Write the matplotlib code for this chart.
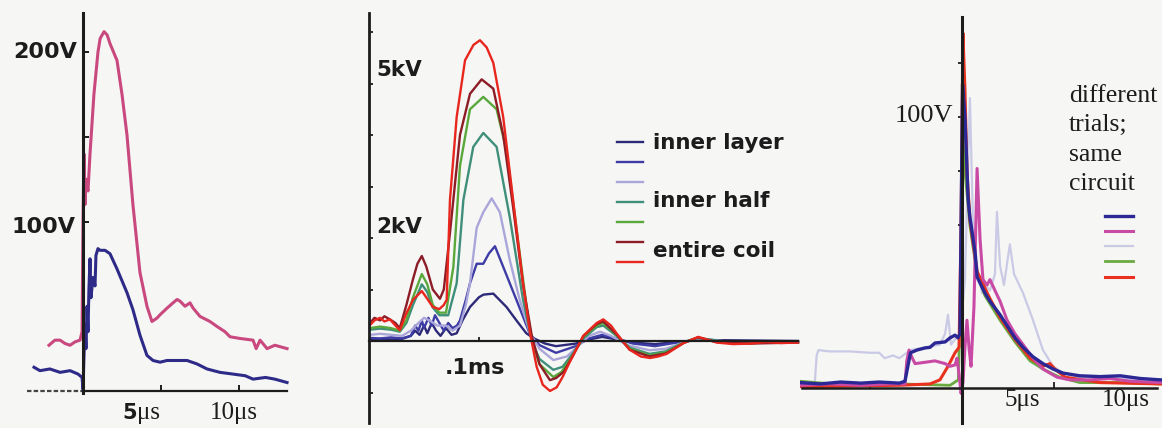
import matplotlib
matplotlib.use("Agg")
import matplotlib.pyplot as plt

W, H = 1162, 428
BG = "#f6f6f4"
INK = "#1c1c1c"

# ---------------- Panel 1 (time in us, volts) ----------------
p1_pink_t = [-2.18, -1.8, -1.47, -1.15, -0.83, -0.51, -0.19, -0.06, 0.0, 0.06, 0.13, 0.19, 0.32, 0.45, 0.7,
             0.96, 1.1, 1.35, 1.55, 1.73, 2.18, 2.5, 2.82, 3.2, 3.65, 4.1, 4.42, 4.74, 4.94, 5.4, 5.77, 6.03,
             6.22, 6.54, 6.86, 7.05, 7.5, 8.14, 8.6, 9.1, 9.42, 10.06, 10.9, 11.1, 11.35, 11.8, 12.3, 13.08]
p1_pink_v = [27, 30, 30, 28, 27, 29, 30, 35, 100, 140, 110, 125, 118, 140, 175,
             200, 208, 212, 210, 205, 195, 175, 151, 110, 70, 50, 41, 43, 45, 49, 52, 54,
             53, 50, 52, 49, 44, 41, 38, 35, 32, 31, 30, 25, 30, 25, 27, 25]
p1_navy_t = [-3.14, -2.76, -2.12, -1.47, -0.83, -0.32, -0.06, 0.0, 0.06, 0.13, 0.19, 0.26, 0.32, 0.38, 0.45,
             0.51, 0.64, 0.77, 0.83, 0.96, 1.09, 1.41, 1.73, 2.18, 2.82, 3.2, 3.65, 4.1, 4.49, 4.94, 5.38,
             6.03, 6.67, 7.3, 7.95, 8.78, 9.6, 10.4, 10.9, 11.7, 12.3, 13.08]
p1_navy_v = [14, 12, 13, 11, 12, 10, 8, 1, 20, 39, 25, 50, 35, 60, 78,
             55, 67, 62, 80, 84, 83, 83, 81, 72, 58, 48, 33, 21, 18, 17, 18,
             18, 18, 16, 13, 11, 10, 9, 7, 8, 7, 5]
p1_yticks = [100, 150, 200]
p1_xticks = [5, 10]

# ---------------- Panel 2 (time in us, kV) ----------------
p2_red_t = [0.9, 5, 10, 14, 19, 24, 28, 34, 40, 48, 52, 58, 64, 68, 70.6, 73.6, 79.7, 87.3, 95, 100.9, 107,
            113, 122, 131, 140, 146.4, 152.4, 158, 164.5, 170.6, 176, 182.7, 194.8, 207, 213, 220, 225, 237,
            247, 255.5, 263, 270.6, 285.8, 299.4, 316, 331, 346, 361, 375, 390]
p2_red_v = [0.31, 0.4, 0.45, 0.38, 0.42, 0.3, 0.21, 0.54, 0.8, 0.97, 0.85, 0.66, 0.62, 0.7, 0.8, 2.74, 4.35,
            5.45, 5.75, 5.84, 5.7, 5.4, 4.35, 2.74, 1.12, 0.15, -0.5, -0.85, -0.97, -0.9, -0.7, -0.4, 0.1,
            0.35, 0.42, 0.3, 0.15, -0.17, -0.3, -0.33, -0.3, -0.25, -0.04, 0.08, -0.03, -0.06, -0.05, -0.02,
            -0.04, -0.03]
p2_darkred_t = [0.9, 5, 10, 14, 19, 24, 28, 34, 40, 44, 48, 52, 58, 64.5, 68, 73.6, 82.7, 91.8, 102.4, 113,
                122, 131, 140, 148, 155, 164.5, 170, 177, 185, 195, 207, 213, 225, 237, 255, 270, 286, 299,
                316, 346, 390]
p2_darkred_v = [0.35, 0.45, 0.4, 0.48, 0.42, 0.35, 0.25, 0.7, 1.2, 1.5, 1.65, 1.45, 1.0, 0.82, 1.0, 2.1, 4.0,
                4.8, 5.08, 4.9, 4.0, 2.6, 1.1, 0.1, -0.45, -0.76, -0.72, -0.6, -0.3, 0.1, 0.33, 0.38, 0.13,
                -0.17, -0.3, -0.24, -0.04, 0.07, -0.02, -0.05, -0.03]
p2_green_t = [0.9, 10, 20, 28, 34, 40, 48, 53, 58, 64, 70, 76.7, 82.7, 91.8, 103.9, 116, 125, 134, 143.3, 148,
              155, 167.6, 175, 183, 195, 207, 213, 225, 237, 255, 270, 286, 299, 316, 346, 390]
p2_green_v = [0.25, 0.28, 0.25, 0.2, 0.4, 0.85, 1.3, 1.1, 0.7, 0.55, 0.55, 1.44, 3.4, 4.5, 4.74, 4.5, 3.7,
              2.2, 0.66, 0.0, -0.45, -0.7, -0.6, -0.35, 0.08, 0.3, 0.35, 0.12, -0.15, -0.28, -0.22, -0.03,
              0.07, -0.02, -0.04, -0.02]
p2_teal_t = [0.9, 10, 20, 28, 34, 40, 48, 53, 58, 64, 72, 79.7, 85.8, 94.8, 103.9, 116, 128, 140, 148, 155,
             167.6, 176, 185, 195, 207, 213, 225, 237, 255, 270, 286, 299, 330, 390]
p2_teal_v = [0.22, 0.24, 0.22, 0.18, 0.35, 0.7, 1.1, 0.95, 0.65, 0.5, 0.5, 1.12, 2.74, 3.77, 4.04, 3.77, 2.4,
             0.8, 0.0, -0.35, -0.56, -0.5, -0.25, 0.05, 0.27, 0.3, 0.1, -0.13, -0.25, -0.2, -0.03, 0.06,
             -0.03, -0.02]
p2_lav_t = [0.9, 10, 20, 30, 38, 45, 50, 55, 62, 70, 76, 82.7, 88, 91.8, 97.9, 103.9, 111.5, 119, 128, 137,
            146.4, 155, 167.6, 180, 190, 200, 210, 220, 235, 255, 270, 286, 299, 330, 390]
p2_lav_v = [0.12, 0.14, 0.12, 0.1, 0.2, 0.35, 0.45, 0.4, 0.3, 0.3, 0.2, 0.3, 0.7, 1.12, 2.2, 2.5, 2.77, 2.5,
            1.57, 0.8, 0.15, -0.15, -0.37, -0.3, -0.1, 0.1, 0.18, 0.1, -0.08, -0.18, -0.15, -0.03, 0.05,
            -0.02, -0.02]
p2_blue_t = [0.9, 10, 20, 30, 38, 42, 45, 48, 50, 54, 57, 60, 64, 68, 72, 76, 80, 82.7, 88, 91.8, 97.9,
             103.9, 109, 114.5, 122, 134, 146, 155, 170, 188, 200, 212, 225, 240, 260, 280, 300, 330, 390]
p2_blue_v = [0.06, 0.05, 0.07, 0.05, 0.1, 0.3, 0.2, 0.4, 0.25, 0.45, 0.3, 0.5, 0.35, 0.2, 0.35, 0.25, 0.3,
             0.4, 0.8, 1.12, 1.5, 1.5, 1.7, 1.84, 1.44, 0.8, 0.15, -0.08, -0.23, -0.1, 0.05, 0.12, 0.05,
             -0.05, -0.1, -0.03, 0.03, -0.02, -0.01]
p2_navy_t = [0.9, 10, 20, 30, 38, 42, 46, 50, 53, 57, 61, 65, 70, 75, 79.7, 85, 91.8, 100, 104, 113, 125,
             134, 143, 150, 160, 170, 188, 200, 212, 225, 240, 260, 280, 300, 390]
p2_navy_v = [0.03, 0.04, 0.03, 0.04, 0.1, 0.2, 0.12, 0.3, 0.15, 0.35, 0.2, 0.1, 0.25, 0.12, 0.15, 0.4, 0.66,
             0.85, 0.9, 0.92, 0.66, 0.4, 0.15, 0.05, -0.05, -0.1, -0.05, 0.03, 0.08, 0.03, -0.03, -0.06,
             -0.02, 0.02, 0.0]
p2_yticks = [-1, 0, 1, 2, 3, 4, 5, 6]
p2_xticks = [100, 200]
p2_groups = ["inner layer", "inner half", "entire coil"]

# ---------------- Panel 3 (time in us, volts) ----------------
p3_navy_t = [-8.8, -7.7, -6.6, -5.5, -4.5, -3.4, -3.1, -2.8, -2.45, -2.0, -1.74, -1.47, -0.92, -0.65, -0.38,
             -0.22, -0.11, -0.05, 0.03, 0.16, 0.33, 0.43, 0.54, 0.71, 0.82, 1.25, 1.52, 2.07, 2.45, 2.88,
             3.32, 3.86, 4.4, 4.95, 5.49, 6.4, 7.5, 8.6, 9.7, 10.8]
p3_navy_v = [2, 1.5, 2.2, 1.8, 2.2, 1.8, 2.5, 13, 14, 14.8, 15, 16.6, 17, 18.5, 19.5, 18.5, 20, 60, 112,
             100, 70, 63, 58, 50, 41, 35, 32, 27, 23, 18.5, 15, 11.5, 9, 7, 5.5, 4.5, 4.2, 4.5, 3.5, 3]
p3_mag_t = [-8.8, -7.2, -5.5, -3.9, -3.1, -3.0, -2.88, -2.7, -2.55, -2.0, -1.47, -0.92, -0.65, -0.38, -0.27,
            -0.16, -0.05, 0.05, 0.16, 0.27, 0.38, 0.49, 0.65, 0.82, 0.98, 1.14, 1.36, 1.52, 1.79, 2.07, 2.45,
            2.88, 3.32, 3.86, 4.4, 5.16, 5.87, 6.96, 8.04, 9.13, 10.8]
p3_mag_v = [1, 1.5, 1, 1.5, 1.5, 10, 14, 11, 9, 9.5, 10, 9, 8, 8.5, 11, 5, -2, 2, 15, 25, 15, 8, 30, 81, 55,
            40, 38, 40, 36, 32, 25, 20, 16, 11, 7, 4, 3, 3, 3.5, 2.5, 2]
p3_lav_t = [-8.8, -8.0, -7.9, -7.8, -7.2, -6.1, -5.0, -4.5, -4.2, -3.75, -3.4, -2.8, -2.0, -1.2, -0.92, -0.76,
            -0.6, -0.38, -0.11, 0.16, 0.43, 0.6, 0.82, 1.09, 1.25, 1.52, 1.79, 1.9, 2.07, 2.28, 2.6, 2.83,
            3.32, 3.86, 4.4, 4.95, 5.49, 6.4, 10.8]
p3_lav_v = [2, 2, 12, 14, 13.5, 13.5, 13, 13, 11, 12, 11, 14, 15, 16, 20, 27, 16, 18, 20, 40, 107, 60, 45,
            35, 38, 36, 42, 65, 45, 38, 53, 42, 35, 25, 14, 8, 5.5, 4, 3]
p3_green_t = [-8.8, -6.1, -3.4, -0.65, -0.2, -0.05, 0.03, 0.16, 0.43, 0.82, 1.25, 2.07, 2.88, 3.7, 4.4, 5.3,
              6.4, 8.6, 10.8]
p3_green_v = [2.5, 1, 1.5, 1, 3, 40, 94, 80, 60, 42, 34, 25, 17, 10, 7, 4, 2, 2, 1.5]
p3_red_t = [-8.8, -3.4, -1.74, -1.2, -0.76, -0.38, -0.16, -0.05, 0.05, 0.16, 0.27, 0.43, 0.82, 1.52, 2.07,
            2.88, 3.7, 4.4, 4.78, 5.05, 5.6, 7.5, 10.8]
p3_red_v = [0.5, 1, 1.5, 3, 8, 13, 15, 60, 131, 110, 80, 62, 43, 33, 26, 18, 11, 8, 9, 7, 4, 2, 1.5]
p3_yticks = [60, 80, 100, 120]
p3_xticks = [-5, 5]
p3_note = ["different", "trials;", "same", "circuit"]

fig = plt.figure(figsize=(W / 100, H / 100), dpi=100, facecolor=BG)


def panel(x0, x1, t0px, pxu, y0px, pyu):
    ax = fig.add_axes([x0 / W, 0, (x1 - x0) / W, 1])
    ax.set_xlim((x0 - t0px) / pxu, (x1 - t0px) / pxu)
    ax.set_ylim((y0px - H) / pyu, y0px / pyu)
    ax.patch.set_alpha(0)
    ax.spines["top"].set_visible(False)
    ax.spines["right"].set_visible(False)
    ax.spines["left"].set_position(("data", 0))
    ax.spines["bottom"].set_position(("data", 0))
    for s in ("left", "bottom"):
        ax.spines[s].set_color(INK)
    ax.set_xticklabels([])
    ax.set_yticklabels([])
    return ax


def ftext(x, y, s, **kw):
    fig.text(x / W, 1 - y / H, s, color=INK, **kw)


SANS = dict(family="DejaVu Sans", weight="bold")
SERIF = dict(family="Liberation Serif")

# ---- Panel 1
ax1 = panel(20, 300, 83, 15.6, 391, 1.695)
ax1.spines["left"].set_bounds(-1, 223)
ax1.spines["left"].set_linewidth(2.2)
ax1.spines["bottom"].set_bounds(0, 13.1)
ax1.spines["bottom"].set_linewidth(1.6)
ax1.hlines(0, -3.6, 0, colors="#444444", linestyles=(0, (2, 1)), linewidth=1.6)
ax1.set_xticks(p1_xticks)
ax1.set_yticks(p1_yticks)
ax1.set_xticklabels([])
ax1.set_yticklabels([])
ax1.tick_params(axis="both", direction="in", length=4, width=1.4, color=INK)
ax1.plot(p1_pink_t, p1_pink_v, color="#c9487e", lw=2.2, solid_joinstyle="round")
ax1.plot(p1_navy_t, p1_navy_v, color="#2e2a88", lw=2.2, solid_joinstyle="round")
ftext(77, 52, "200V", ha="right", va="center", fontsize=16, **SANS)
ftext(75, 227, "100V", ha="right", va="center", fontsize=16, **SANS)
ftext(137, 419, "5", ha="right", va="baseline", fontsize=15, **SANS)
ftext(137, 419, "μs", ha="left", va="baseline", fontsize=18, **SERIF)
ftext(210, 419, "10μs", ha="left", va="baseline", fontsize=18, **SERIF)

# ---- Panel 2
ax2 = panel(355, 800, 369, 1.1, 341, 51.5)
ax2.spines["left"].set_bounds(-1.59, 6.37)
ax2.spines["left"].set_linewidth(2.0)
ax2.spines["bottom"].set_bounds(0, 390)
ax2.spines["bottom"].set_linewidth(1.6)
ax2.set_xticks(p2_xticks)
ax2.set_yticks(p2_yticks)
ax2.set_xticklabels([])
ax2.set_yticklabels([])
ax2.tick_params(axis="both", direction="in", length=3, width=1.3, color=INK)
series2 = [
    (p2_navy_t, p2_navy_v, "#2c2a78"),
    (p2_blue_t, p2_blue_v, "#3d3ca6"),
    (p2_lav_t, p2_lav_v, "#aaa6da"),
    (p2_teal_t, p2_teal_v, "#3f8f7a"),
    (p2_green_t, p2_green_v, "#5aa83c"),
    (p2_darkred_t, p2_darkred_v, "#8c1c26"),
    (p2_red_t, p2_red_v, "#e8261e"),
]
h2 = []
for t, v, c in series2:
    ln, = ax2.plot(t, v, color=c, lw=1.7, solid_joinstyle="round")
    h2.append(ln)
ax2.legend(handles=h2, labels=[""] * len(h2), loc="upper left",
           bbox_to_anchor=(617 / W, 1 - 136 / H), bbox_transform=fig.transFigure,
           frameon=False, fontsize=10, handlelength=1.87, handletextpad=0, labelspacing=0.43,
           borderpad=0, borderaxespad=0)
for lab, y in zip(p2_groups, [143, 201, 251]):
    ftext(653, y, lab, ha="left", va="center", fontsize=15.5, **SANS)
ftext(376, 70, "5kV", ha="left", va="center", fontsize=15.5, **SANS)
ftext(376, 227, "2kV", ha="left", va="center", fontsize=15.5, **SANS)
ftext(445, 368, ".1ms", ha="left", va="center", fontsize=16, **SANS)

# ---- Panel 3
ax3 = panel(800, 1162, 962, 18.4, 388, 2.71)
ax3.spines["left"].set_bounds(-12.9, 136.9)
ax3.spines["left"].set_linewidth(2.2)
ax3.spines["bottom"].set_bounds(-8.7, 10.6)
ax3.spines["bottom"].set_linewidth(1.8)
ax3.set_xticks(p3_xticks)
ax3.set_yticks(p3_yticks)
ax3.set_xticklabels([])
ax3.set_yticklabels([])
ax3.tick_params(axis="y", direction="out", length=3, width=1.3, color=INK)
ax3.tick_params(axis="x", direction="in", length=4, width=1.3, color=INK)
# (t, v, colour, linewidth, legend position)
series3 = [
    (p3_lav_t, p3_lav_v, "#cacae6", 1.6, 2),
    (p3_green_t, p3_green_v, "#6aaa40", 2.0, 3),
    (p3_red_t, p3_red_v, "#e8321f", 2.2, 4),
    (p3_mag_t, p3_mag_v, "#c94aa4", 2.2, 1),
    (p3_navy_t, p3_navy_v, "#2b2896", 2.4, 0),
]
h3 = [None] * 5
for t, v, c, lw, idx in series3:
    ln, = ax3.plot(t, v, color=c, lw=lw, solid_joinstyle="round")
    h3[idx] = ln
ax3.legend(handles=h3, labels=[""] * 5, loc="upper left",
           bbox_to_anchor=(1105 / W, 1 - 212 / H), bbox_transform=fig.transFigure,
           frameon=False, fontsize=8, handlelength=2.5, handletextpad=0, labelspacing=0.46,
           borderpad=0, borderaxespad=0)
for lab, y in zip(p3_note, [102, 131, 161, 190]):
    ftext(1069, y, lab, ha="left", va="baseline", fontsize=18.5, **SERIF)
ftext(953, 122, "100V", ha="right", va="baseline", fontsize=19, **SERIF)
ftext(1005, 406, "5μs", ha="left", va="baseline", fontsize=18, **SERIF)
ftext(1102, 406, "10μs", ha="left", va="baseline", fontsize=18, **SERIF)

fig.savefig("out.png", dpi=100, facecolor=BG)
